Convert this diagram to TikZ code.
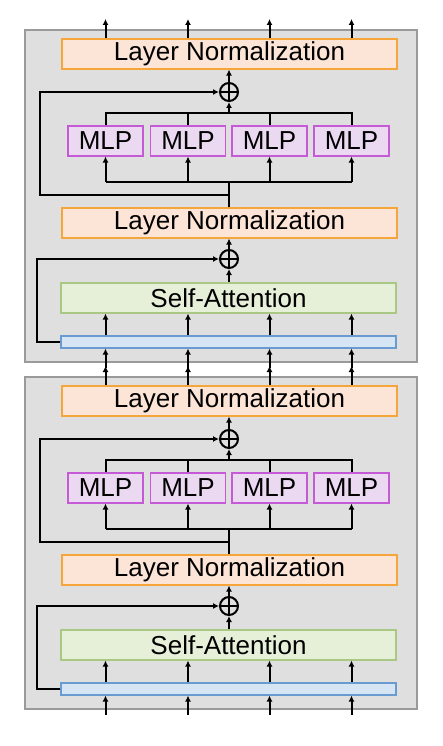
\documentclass[tikz,border=0pt]{standalone}
\usepackage{fontspec}
\setmainfont{Liberation Sans}
\usetikzlibrary{arrows.meta, positioning}

\definecolor{panelfill}{HTML}{DFDFDF}
\definecolor{paneldraw}{HTML}{9A9A9A}
\definecolor{lnfill}{HTML}{FCE5D7}
\definecolor{lndraw}{HTML}{F5A53A}
\definecolor{mlpfill}{HTML}{EAD9F1}
\definecolor{mlpdraw}{HTML}{C55AD6}
\definecolor{safill}{HTML}{E6EFD8}
\definecolor{sadraw}{HTML}{A9C883}
\definecolor{barfill}{HTML}{D6E5F4}
\definecolor{bardraw}{HTML}{6A9BD0}

\begin{document}
\begin{tikzpicture}[x=1pt, y=-1pt,
    line/.style={line width=2pt, black},
    arr/.style={line, -{Latex[length=6pt,width=6pt]}},
    box/.style={draw, line width=1.1pt, inner sep=0pt, minimum height=30pt,
        font=\fontsize{26}{30}\selectfont},
    panel/.style={draw=paneldraw, fill=panelfill, line width=1.2pt, inner sep=0pt},
    lnbox/.style={box, fill=lnfill, draw=lndraw, minimum width=335pt},
    mlpbox/.style={box, fill=mlpfill, draw=mlpdraw, minimum width=75pt},
    sabox/.style={box, fill=safill, draw=sadraw, minimum width=335pt},
    barbox/.style={draw=bardraw, fill=barfill, line width=1.1pt, inner sep=0pt,
        minimum width=335pt, minimum height=12pt},
    plus/.style={circle, draw, line width=2pt, minimum size=18pt, inner sep=0pt,
        path picture={\draw[line width=2pt]
            (path picture bounding box.north) -- (path picture bounding box.south)
            (path picture bounding box.west) -- (path picture bounding box.east);}}]
\useasboundingbox (0,0) rectangle (442,746);

\foreach \b/\off in {a/0, b/347} {
  \begin{scope}[yshift=-\off pt]
    % Panel
    \node[panel, minimum width=392pt, minimum height=332pt] (panel-\b) at (221,196) {};

    % Blocks
    \node[lnbox] (ln1-\b) at (229.5,54) {Layer Normalization};
    \node[plus] (plus1-\b) at (229,92) {};
    \foreach \i/\x in {1/105.5, 2/188, 3/269.5, 4/351.5}
      \node[mlpbox] (mlp\i-\b) at (\x,141) {MLP};
    \node[lnbox] (ln2-\b) at (229.5,223) {Layer Normalization};
    \node[plus] (plus2-\b) at (229,259) {};
    \node[sabox] (sa-\b) at (228.5,298) {Self-Attention};
    \node[barbox] (bar-\b) at (228.5,342) {};

    % Helper points
    \coordinate (join-\b) at (229,113);
    \coordinate (fork-\b) at (229,182);
    \coordinate (res1-\b) at (40,195);
    \coordinate (res2-\b) at (37,342);
    \foreach \i/\x in {1/105.5, 2/188, 3/269.5, 4/351.5} {
      \coordinate (out\i-\b) at (\x,19);
      \coordinate (in\i-\b) at (\x,368);
    }

    % Inputs and outputs
    \foreach \i in {1,...,4} {
      \draw[arr] (in\i-\b) -- (bar-\b.south -| in\i-\b);
      \draw[arr] (bar-\b.north -| in\i-\b) -- (sa-\b.south -| in\i-\b);
      \draw[arr] (ln1-\b.north -| out\i-\b) -- (out\i-\b);
    }

    % Attention residual
    \draw[arr] (sa-\b.north -| plus2-\b) -- (plus2-\b);
    \draw[arr] (plus2-\b) -- (ln2-\b.south -| plus2-\b);
    \draw[arr] (bar-\b.west) -- (res2-\b) |- (plus2-\b.west);

    % MLP branch
    \draw[line] (ln2-\b.north -| fork-\b) -- (fork-\b);
    \draw[line] (mlp1-\b.south |- fork-\b) -- (mlp4-\b.south |- fork-\b);
    \foreach \i in {1,...,4}
      \draw[arr] (mlp\i-\b.south |- fork-\b) -- (mlp\i-\b.south);
    \draw[line] (mlp1-\b.north) |- (join-\b) -| (mlp4-\b.north);
    \draw[line] (mlp2-\b.north) -- (mlp2-\b.north |- join-\b);
    \draw[line] (mlp3-\b.north) -- (mlp3-\b.north |- join-\b);
    \draw[arr] (join-\b) -- (plus1-\b);
    \draw[arr] (plus1-\b) -- (ln1-\b.south -| plus1-\b);
    \draw[arr] (fork-\b |- res1-\b) -- (res1-\b) |- (plus1-\b.west);
  \end{scope}
}
\end{tikzpicture}
\end{document}
